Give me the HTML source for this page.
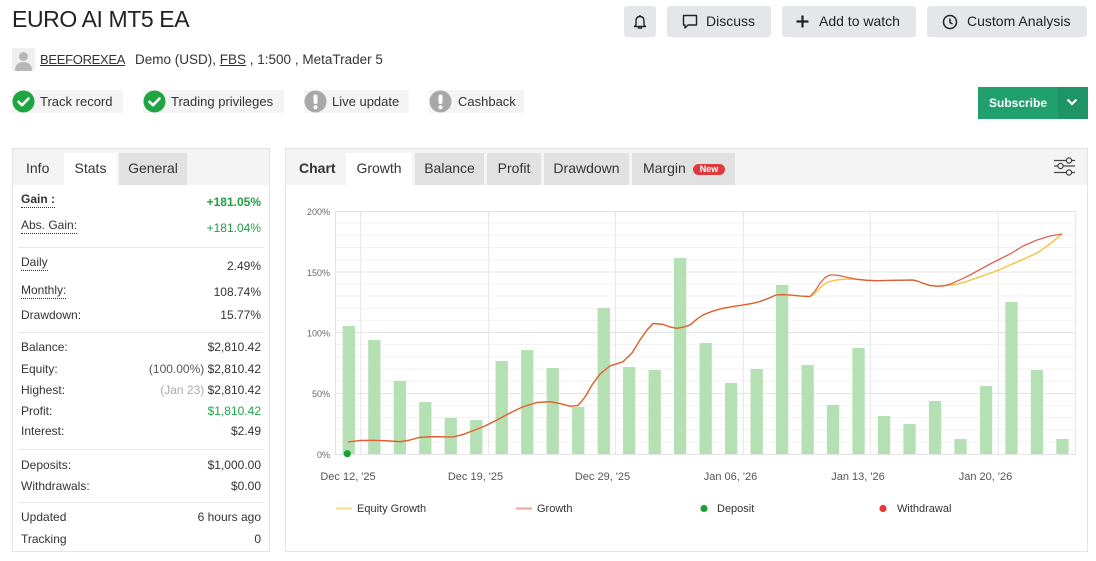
<!DOCTYPE html>
<html><head><meta charset="utf-8">
<style>
*{margin:0;padding:0;box-sizing:border-box}
body{width:1096px;height:561px;background:#fff;font-family:"Liberation Sans",Arial,sans-serif;color:#333;position:relative;overflow:hidden}
.a{position:absolute;white-space:nowrap}
.btn{position:absolute;top:6px;height:31px;background:#e4e6ea;border-radius:3px;font-size:14px;color:#222;line-height:31px}
.badge{position:absolute;top:90px;height:23px;background:#f4f4f4;font-size:13px;line-height:23px;color:#333}
.lab{position:absolute;left:21px;font-size:12px;line-height:16px;color:#333;white-space:nowrap}
.val{position:absolute;right:835px;font-size:12px;line-height:16px;color:#333;white-space:nowrap;text-align:right}
.sep{position:absolute;left:18px;width:246px;height:1px;background:#e6e6e6}
.dot{border-bottom:1px dotted #333;padding-bottom:1px}
.tab{position:absolute;top:153px;height:32px;font-size:14px;line-height:30px;text-align:center;color:#333}
</style></head><body>

<div class="a" style="left:12px;top:5px;font-size:23px;letter-spacing:-0.4px;color:#222;line-height:28px">EURO AI MT5 EA</div>

<!-- avatar -->
<div class="a" style="left:12px;top:48px;width:23px;height:23px;background:#efefef;border-radius:2px;overflow:hidden">
<svg width="23" height="23"><circle cx="11.5" cy="8.5" r="4.5" fill="#b8b8b8"/><path d="M3 23 Q3 14 11.5 14 Q20 14 20 23Z" fill="#b8b8b8"/></svg></div>
<div class="a" style="left:40px;top:51px;font-size:13px;line-height:17px;color:#333;letter-spacing:-0.3px;text-decoration:underline">BEEFOREXEA</div>
<div class="a" style="left:135px;top:51px;font-size:13.5px;line-height:17px;color:#333">Demo (USD), <span style="text-decoration:underline">FBS</span> , 1:500 , MetaTrader 5</div>

<!-- badges -->
<div class="badge" style="left:12px;width:111px"><svg class="a" style="left:0;top:0" width="23" height="23"><circle cx="11.5" cy="11.5" r="11" fill="#1ea540"/><path d="M6.5 11.8 L10 15.2 L16.5 8.5" stroke="#fff" stroke-width="2.6" fill="none" stroke-linecap="round" stroke-linejoin="round"/></svg><span class="a" style="left:28px">Track record</span></div>
<div class="badge" style="left:143px;width:141px"><svg class="a" style="left:0;top:0" width="23" height="23"><circle cx="11.5" cy="11.5" r="11" fill="#1ea540"/><path d="M6.5 11.8 L10 15.2 L16.5 8.5" stroke="#fff" stroke-width="2.6" fill="none" stroke-linecap="round" stroke-linejoin="round"/></svg><span class="a" style="left:28px">Trading privileges</span></div>
<div class="badge" style="left:304px;width:105px"><svg class="a" style="left:0;top:0" width="23" height="23"><circle cx="11.5" cy="11.5" r="11" fill="#a8a8a8"/><rect x="9.5" y="4.5" width="4" height="9.5" rx="2" fill="#fff"/><circle cx="11.5" cy="17.3" r="2" fill="#fff"/></svg><span class="a" style="left:28px">Live update</span></div>
<div class="badge" style="left:429px;width:95px"><svg class="a" style="left:0;top:0" width="23" height="23"><circle cx="11.5" cy="11.5" r="11" fill="#a8a8a8"/><rect x="9.5" y="4.5" width="4" height="9.5" rx="2" fill="#fff"/><circle cx="11.5" cy="17.3" r="2" fill="#fff"/></svg><span class="a" style="left:29px">Cashback</span></div>

<!-- top buttons -->
<div class="btn" style="left:624px;width:32px"><svg class="a" style="left:9px;top:8px" width="14" height="16"><path d="M3 11 L3 7 Q3 2.5 7 2.5 Q11 2.5 11 7 L11 11 L12.5 12.5 L1.5 12.5 Z" fill="none" stroke="#222" stroke-width="1.4" stroke-linejoin="round"/><path d="M5.5 14 L8.5 14" stroke="#222" stroke-width="1.6" stroke-linecap="round"/><path d="M7 1 L7 2.5" stroke="#222" stroke-width="1.3"/></svg></div>
<div class="btn" style="left:667px;width:104px"><svg class="a" style="left:15px;top:8px" width="16" height="16"><path d="M1.5 1.5 H14.5 V11 H6 L3 14 V11 H1.5 Z" fill="none" stroke="#222" stroke-width="1.4" stroke-linejoin="round"/></svg><span class="a" style="left:39px">Discuss</span></div>
<div class="btn" style="left:782px;width:134px"><svg class="a" style="left:14px;top:9px" width="13" height="13"><path d="M6.5 0.5 V12.5 M0.5 6.5 H12.5" stroke="#222" stroke-width="2.2"/></svg><span class="a" style="left:37px">Add to watch</span></div>
<div class="btn" style="left:927px;width:160px"><svg class="a" style="left:15px;top:8px" width="16" height="16"><circle cx="8" cy="8" r="6.5" fill="none" stroke="#222" stroke-width="1.5"/><path d="M8 4.5 V8.5 L10.5 10" fill="none" stroke="#222" stroke-width="1.5"/></svg><span class="a" style="left:40px">Custom Analysis</span></div>

<!-- subscribe -->
<div class="a" style="left:978px;top:87px;width:110px;height:32px;background:#21a06e"></div>
<div class="a" style="left:1058px;top:87px;width:30px;height:32px;background:#1e9567"></div>
<div class="a" style="left:989px;top:87px;font-size:12px;font-weight:bold;color:#fff;line-height:32px">Subscribe</div>
<svg class="a" style="left:1066px;top:97px" width="12" height="10"><path d="M1.5 2.5 L6 7 L10.5 2.5" stroke="#fff" stroke-width="2.2" fill="none"/></svg>

<!-- left panel -->
<div class="a" style="left:12px;top:148px;width:258px;height:404px;border:1px solid #e3e3e3"></div>
<div class="a" style="left:13px;top:149px;width:256px;height:36px;background:#f4f4f4"></div>
<div class="tab" style="left:64px;width:53px;background:#fff">Stats</div>
<div class="tab" style="left:119px;width:68px;background:#e1e1e1">General</div>
<div class="a" style="left:26px;top:153px;font-size:14px;line-height:30px">Info</div>

<div class="lab" style="top:191px;font-weight:bold"><span class="dot">Gain :</span></div>
<div class="val" style="top:194px;font-weight:bold;color:#1f9e42">+181.05%</div>
<div class="lab" style="top:217px"><span class="dot">Abs. Gain:</span></div>
<div class="val" style="top:220px;color:#1f9e42">+181.04%</div>
<div class="sep" style="top:247px"></div>
<div class="lab" style="top:254px"><span class="dot">Daily</span></div>
<div class="val" style="top:258px">2.49%</div>
<div class="lab" style="top:282px"><span class="dot">Monthly:</span></div>
<div class="val" style="top:284px">108.74%</div>
<div class="lab" style="top:307px">Drawdown:</div>
<div class="val" style="top:307px">15.77%</div>
<div class="sep" style="top:332px"></div>
<div class="lab" style="top:339px">Balance:</div>
<div class="val" style="top:339px">$2,810.42</div>
<div class="lab" style="top:361px">Equity:</div>
<div class="val" style="top:361px"><span style="color:#555">(100.00%)</span> $2,810.42</div>
<div class="lab" style="top:382px">Highest:</div>
<div class="val" style="top:382px"><span style="color:#aaa">(Jan 23)</span> $2,810.42</div>
<div class="lab" style="top:403px">Profit:</div>
<div class="val" style="top:403px;color:#1fa84a">$1,810.42</div>
<div class="lab" style="top:423px">Interest:</div>
<div class="val" style="top:423px">$2.49</div>
<div class="sep" style="top:449px"></div>
<div class="lab" style="top:457px">Deposits:</div>
<div class="val" style="top:457px">$1,000.00</div>
<div class="lab" style="top:478px">Withdrawals:</div>
<div class="val" style="top:478px">$0.00</div>
<div class="sep" style="top:502px"></div>
<div class="lab" style="top:509px">Updated</div>
<div class="val" style="top:509px">6 hours ago</div>
<div class="lab" style="top:531px">Tracking</div>
<div class="val" style="top:531px">0</div>

<!-- chart panel -->
<div class="a" style="left:285px;top:148px;width:803px;height:404px;border:1px solid #e3e3e3"></div>
<div class="a" style="left:286px;top:149px;width:801px;height:36px;background:#f4f4f4"></div>
<div class="a" style="left:299px;top:153px;font-size:14px;font-weight:bold;line-height:30px">Chart</div>
<div class="tab" style="left:346px;width:66px;background:#fff">Growth</div>
<div class="tab" style="left:415px;width:69px;background:#e1e1e1">Balance</div>
<div class="tab" style="left:487px;width:54px;background:#e1e1e1">Profit</div>
<div class="tab" style="left:544px;width:85px;background:#e1e1e1">Drawdown</div>
<div class="tab" style="left:632px;width:103px;background:#e1e1e1;text-align:left;padding-left:11px">Margin</div>
<div class="a" style="left:693px;top:164px;width:32px;height:11px;border-radius:6px;background:#dc3a3f;color:#fff;font-size:9px;font-weight:bold;line-height:11px;text-align:center">New</div>
<svg class="a" style="left:1053px;top:156px" width="24" height="22">
<g stroke="#444" stroke-width="1.3" fill="#f4f4f4">
<path d="M1 4.5 H22"/><path d="M1 10 H22"/><path d="M1 16.5 H22"/>
<circle cx="16" cy="4.5" r="2.6"/><circle cx="7.5" cy="10" r="2.6"/><circle cx="16" cy="16.5" r="2.6"/>
</g></svg>

<svg class="a" style="left:0;top:0" width="1096" height="561">
<g stroke="#f2f2f2" stroke-width="1">
<path d="M335 223.15H1076M335 235.3H1076M335 247.45H1076M335 259.6H1076M335 283.9H1076M335 296.05H1076M335 308.2H1076M335 320.35H1076M335 344.65H1076M335 356.8H1076M335 368.95H1076M335 381.1H1076M335 405.4H1076M335 417.55H1076M335 429.7H1076M335 441.85H1076"/>
</g>
<g stroke="#e4e4e4" stroke-width="1">
<path d="M335 211.5H1076M335 272H1076M335 332.5H1076M335 393.5H1076M335 454.5H1076"/>
<path d="M335.5 211V455M360.7 211V455M488.7 211V455M615.3 211V455M743.3 211V455M870.3 211V455M998.3 211V455M1075.7 211V455"/>
</g>
<g fill="#b4e0b4">
<rect x="342.7" y="326" width="12.3" height="128"/>
<rect x="368.2" y="340" width="12.3" height="114"/>
<rect x="393.7" y="381" width="12.3" height="73"/>
<rect x="419.2" y="402" width="12.3" height="52"/>
<rect x="444.6" y="418" width="12.3" height="36"/>
<rect x="470.1" y="420" width="12.3" height="34"/>
<rect x="495.6" y="361" width="12.3" height="93"/>
<rect x="521.1" y="350" width="12.3" height="104"/>
<rect x="546.6" y="368" width="12.3" height="86"/>
<rect x="572.1" y="407" width="12.3" height="47"/>
<rect x="597.6" y="308" width="12.3" height="146"/>
<rect x="623.0" y="367" width="12.3" height="87"/>
<rect x="648.5" y="370" width="12.3" height="84"/>
<rect x="674.0" y="258" width="12.3" height="196"/>
<rect x="699.5" y="343" width="12.3" height="111"/>
<rect x="725.0" y="383" width="12.3" height="71"/>
<rect x="750.5" y="369" width="12.3" height="85"/>
<rect x="776.0" y="285" width="12.3" height="169"/>
<rect x="801.5" y="365" width="12.3" height="89"/>
<rect x="826.9" y="405" width="12.3" height="49"/>
<rect x="852.4" y="348" width="12.3" height="106"/>
<rect x="877.9" y="416" width="12.3" height="38"/>
<rect x="903.4" y="424" width="12.3" height="30"/>
<rect x="928.9" y="401" width="12.3" height="53"/>
<rect x="954.4" y="439" width="12.3" height="15"/>
<rect x="979.9" y="386" width="12.3" height="68"/>
<rect x="1005.3" y="302" width="12.3" height="152"/>
<rect x="1030.8" y="370" width="12.3" height="84"/>
<rect x="1056.3" y="439" width="12.3" height="15"/>
</g>
<polyline fill="none" stroke="#f4c646" stroke-width="1.5" stroke-linejoin="round" points="348,442 360,440.5 373,440.3 387,440.8 400,441.7 410,440 420,437.3 433,436.7 453,437 463,434.5 473,430.7 485,426 497,420 510,413 523,406.7 537,402.5 550,401.7 560,403.5 570,406.3 578,405.5 585,397 592,385 600,374 610,366 623,361.7 632,353 640,340 647,330 653,323.5 663,324.3 670,327 677,328.3 684,327 690,325 697,319 703,315 713,311 723,308.3 733,306.5 743,305 752,303.5 760,301.5 768,298.5 776,295 783,294.7 790,295 800,296 810,296.5 813,295 818,290 823,285 828,282 833,280.7 840,279.5 847,279 857,279.3 867,280.3 877,280.7 895,280.3 913,280 918,281.3 923,283.3 930,285.5 937,286.2 944,285.8 950,285 957,284 963,282.7 975,278.5 990,273.3 1000,269.5 1010,265 1023,259.5 1037,253 1045,247.5 1053,241.5 1062,234"/>
<polyline fill="none" stroke="#d84a3a" stroke-opacity="0.85" stroke-width="1.3" stroke-linejoin="round" points="348,442 360,440.5 373,440.3 387,440.8 400,441.7 410,440 420,437.3 433,436.7 453,437 463,434.5 473,430.7 485,426 497,420 510,413 523,406.7 537,402.5 550,401.7 560,403.5 570,406.3 578,405.5 585,397 592,385 600,374 610,366 623,361.7 632,353 640,340 647,330 653,323.5 663,324.3 670,327 677,328.3 684,327 690,325 697,319 703,315 713,311 723,308.3 733,306.5 743,305 752,303.5 760,301.5 768,298.5 776,295 783,294.7 790,295 800,296 810,296.5 815,291 820,283.3 825,277.5 830,275 835,275 840,275.7 848,277.5 857,279.3 867,280.3 877,280.7 895,280.3 913,280 918,281.3 923,283.3 930,285.5 937,286.2 944,285.8 950,284.2 960,279.8 970,275 980,269.5 990,264 1000,259 1010,254 1023,246 1037,240 1050,236 1062,234"/>
<circle cx="347.3" cy="453.7" r="3.6" fill="#18a33a"/>
<g font-family="Liberation Sans, Arial, sans-serif" font-size="9" fill="#666" text-anchor="end">
<text x="330" y="215">200%</text>
<text x="330" y="276">150%</text>
<text x="330" y="336.5">100%</text>
<text x="330" y="397">50%</text>
<text x="330" y="458">0%</text>
</g>
<g font-family="Liberation Sans, Arial, sans-serif" font-size="11" fill="#555" text-anchor="middle">
<text x="348" y="480">Dec 12, '25</text>
<text x="475.5" y="480">Dec 19, '25</text>
<text x="602.5" y="480">Dec 29, '25</text>
<text x="730.5" y="480">Jan 06, '26</text>
<text x="858" y="480">Jan 13, '26</text>
<text x="985.5" y="480">Jan 20, '26</text>
</g>
<g font-family="Liberation Sans, Arial, sans-serif" font-size="11" fill="#333">
<path d="M336 508.5H352" stroke="#f7dc8e" stroke-width="2"/>
<text x="357" y="512">Equity Growth</text>
<path d="M516 508.5H532" stroke="#eba49c" stroke-width="2"/>
<text x="537" y="512">Growth</text>
<circle cx="704" cy="508.5" r="3.6" fill="#18a33a"/>
<text x="717" y="512">Deposit</text>
<circle cx="883" cy="508.5" r="3.6" fill="#e03c31"/>
<text x="897" y="512">Withdrawal</text>
</g>
</svg>
</body></html>
